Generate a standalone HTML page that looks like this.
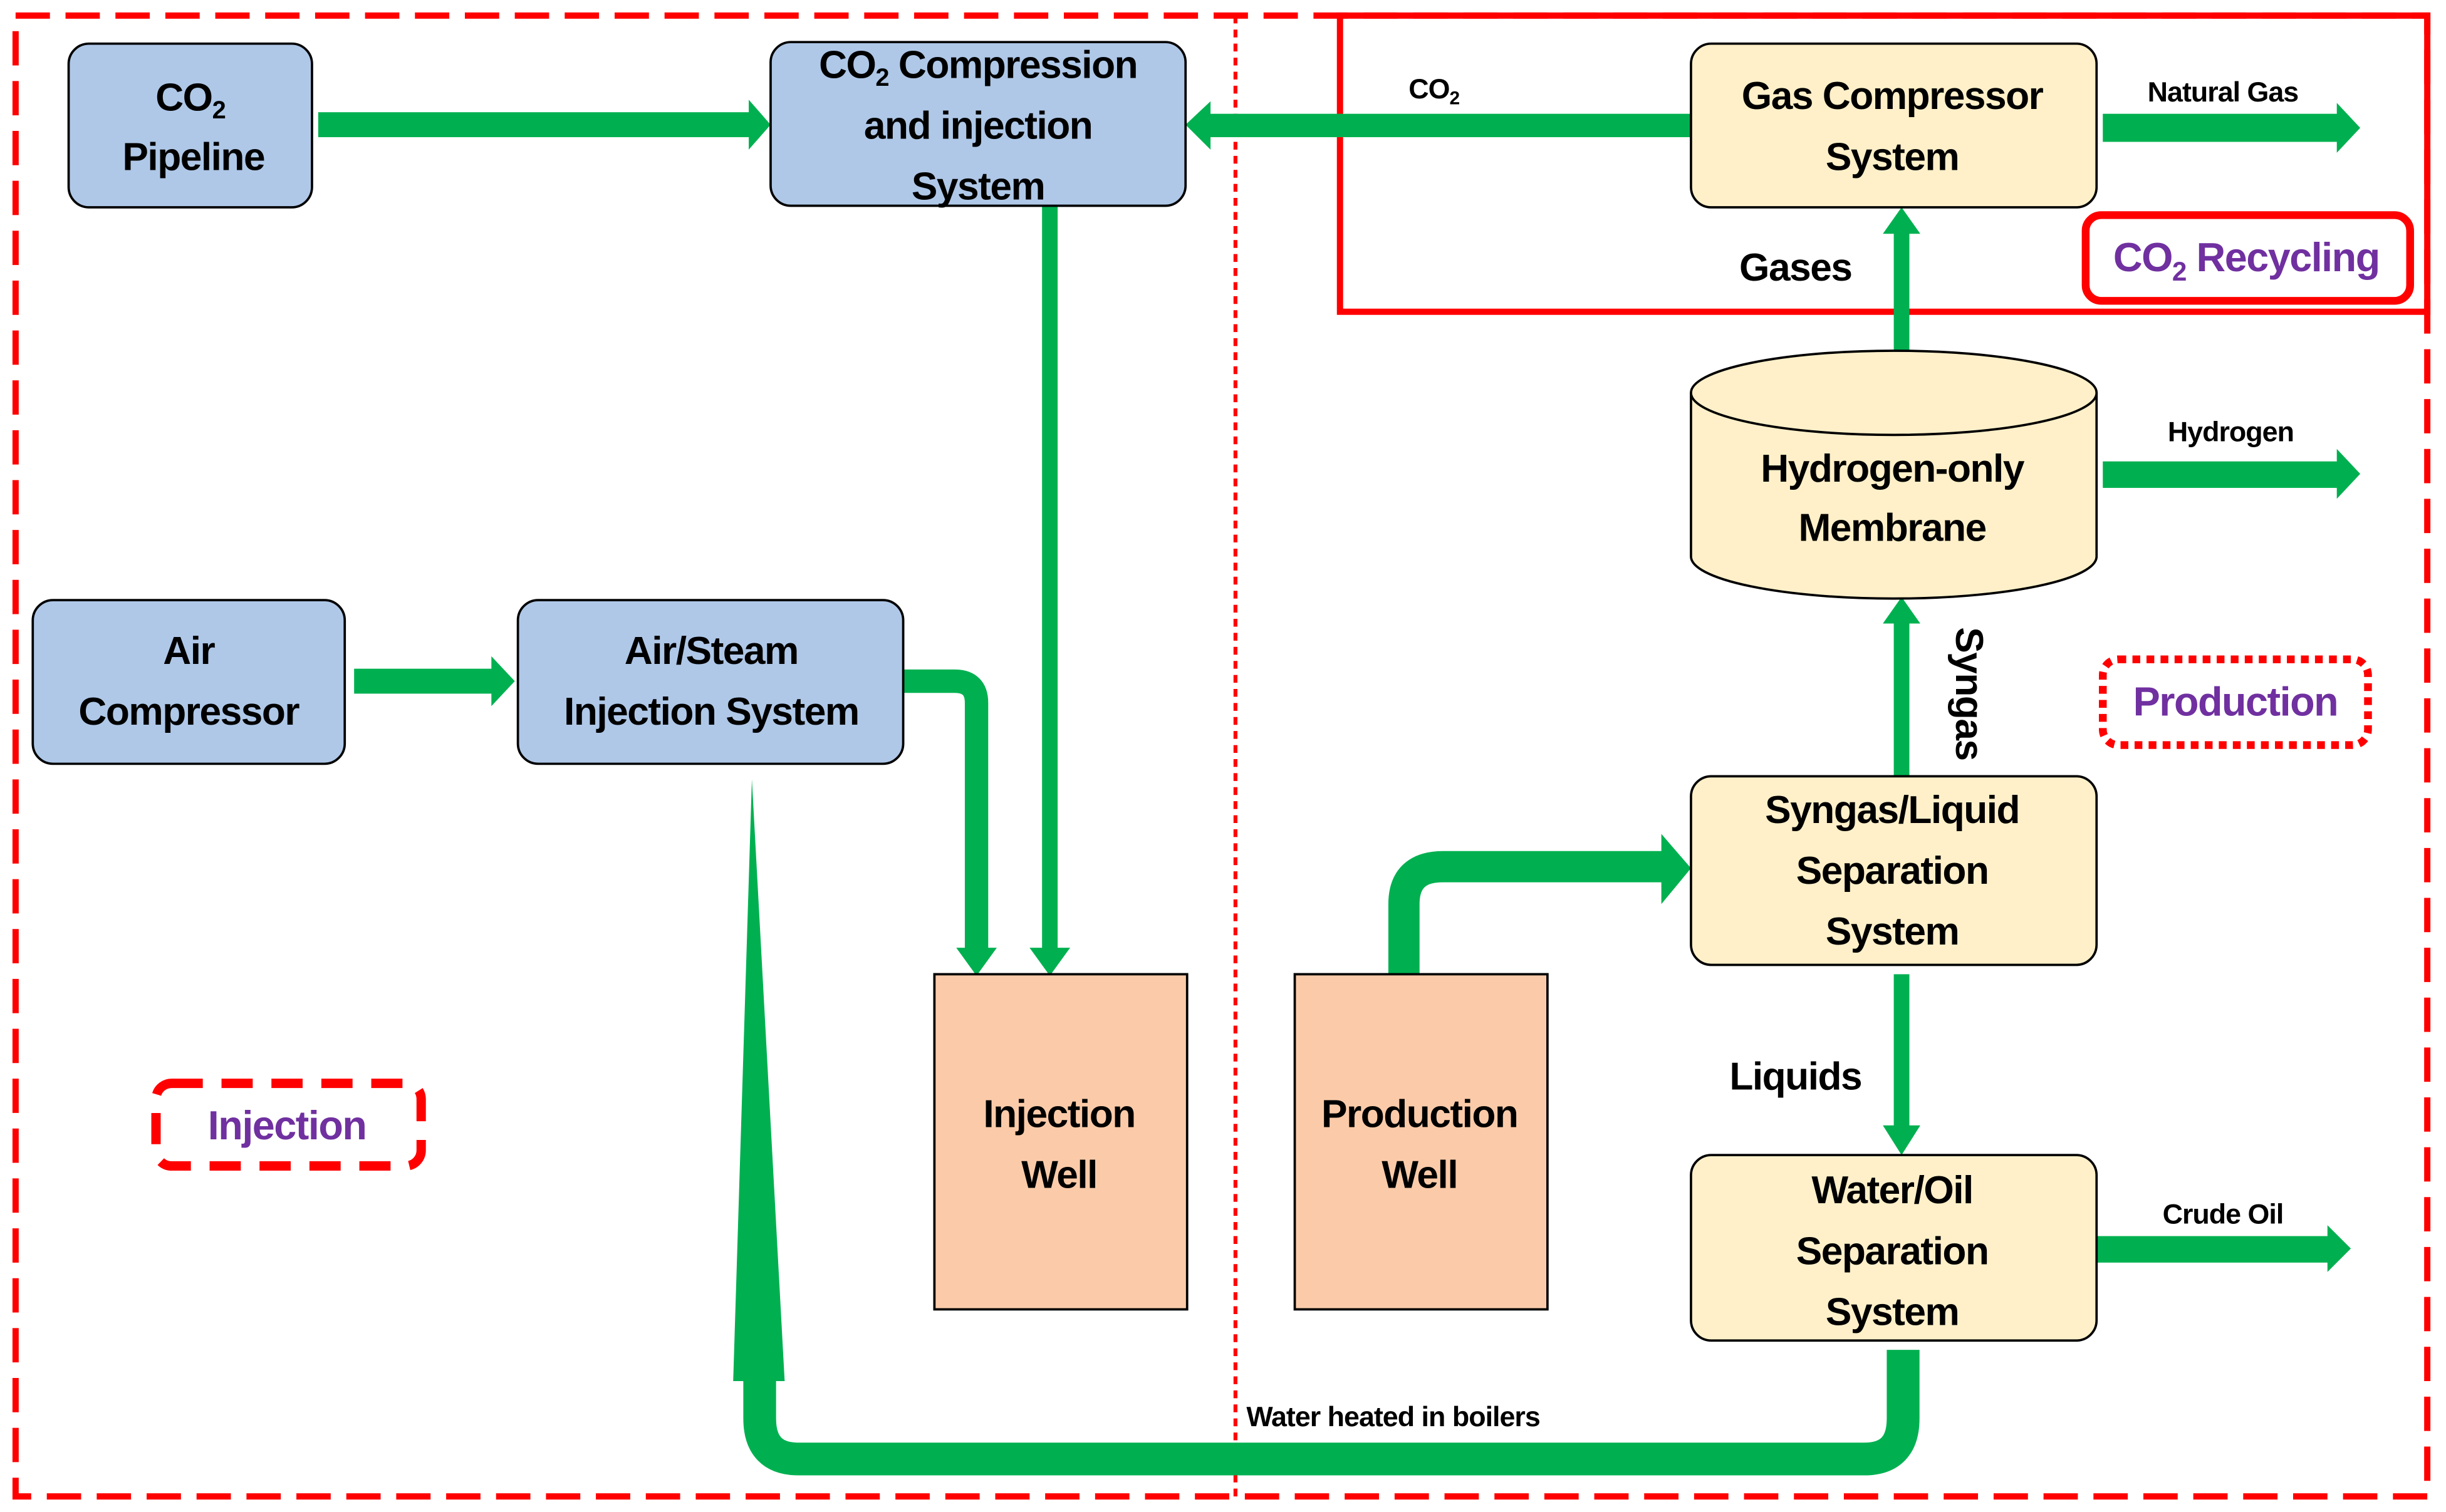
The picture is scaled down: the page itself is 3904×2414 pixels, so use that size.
<!DOCTYPE html>
<html><head><meta charset="utf-8"><style>
html,body{margin:0;padding:0;background:#fff}
svg{display:block}
text{font-family:"Liberation Sans",sans-serif;font-weight:bold;fill:#000}
.b{font-size:25px;letter-spacing:-0.6px}
.s{font-size:18px;letter-spacing:-0.4px}
.p{fill:#7030A0;font-size:26px;letter-spacing:-0.6px}
</style></head><body>
<svg width="3904" height="2414" viewBox="0 0 1568 970" preserveAspectRatio="none" xmlns="http://www.w3.org/2000/svg">
<rect x="0" y="0" width="1568" height="970" fill="#fff"/>
<!-- frames -->
<rect x="10" y="10" width="1546" height="950" fill="none" stroke="#f00" stroke-width="4" stroke-dasharray="22,10"/>
<line x1="792" y1="10" x2="792" y2="960" stroke="#f00" stroke-width="2.5" stroke-dasharray="5,4"/>
<rect x="859" y="10" width="697" height="190" fill="none" stroke="#f00" stroke-width="4"/>
<rect x="1337" y="138" width="208" height="55" rx="10" fill="#fff" stroke="#f00" stroke-width="5"/>
<text class="p" x="1440" y="174" text-anchor="middle">CO<tspan font-size="17" dy="6">2</tspan><tspan dy="-6"> Recycling</tspan></text>
<rect x="1348" y="423" width="170" height="55" rx="10" fill="#fff" stroke="#f00" stroke-width="5" stroke-dasharray="5,4"/>
<text class="p" x="1433" y="459" text-anchor="middle">Production</text>
<rect x="100" y="695" width="170" height="53" rx="10" fill="#fff" stroke="#f00" stroke-width="6" stroke-dasharray="20,12"/>
<text class="p" x="184" y="731" text-anchor="middle">Injection</text>

<!-- arrows -->
<g fill="#00B050">
<rect x="204" y="72" width="278" height="16"/><polygon points="480,64 494,80 480,96"/>
<rect x="774" y="73" width="310" height="15"/><polygon points="776,65 760,80 776,96"/>
<rect x="1348" y="73" width="152" height="18"/><polygon points="1498,66 1513,82 1498,98"/>
<rect x="1348" y="296" width="152" height="17"/><polygon points="1498,288 1513,304 1498,320"/>
<rect x="1344" y="793" width="150" height="17"/><polygon points="1492,786 1507,801 1492,816"/>
<rect x="227" y="429" width="90" height="16"/><polygon points="315,421 330,437 315,453"/>
<rect x="668" y="132" width="10" height="478"/><polygon points="660,608 686,608 673,626"/>
<rect x="1214" y="148" width="10" height="77"/><polygon points="1207,150 1231,150 1219,133"/>
<rect x="1214" y="398" width="10" height="100"/><polygon points="1207,400 1231,400 1219,383"/>
<rect x="1214" y="625" width="10" height="100"/><polygon points="1207,722 1231,722 1219,741"/>
<polygon points="1065,535 1084,557 1065,580"/>
<polygon points="613,608 639,608 626,626"/>
<polygon points="482,500 470,886 503,886"/>
</g>
<g fill="none" stroke="#00B050" stroke-linejoin="round">
<path d="M579,437 H612 Q626,437 626,451 V610" stroke-width="15"/>
<path d="M900,625 V580 Q900,556 925,556 H1067" stroke-width="20"/>
<path d="M1220,866 V910 Q1220,936 1195,936 H512 Q487,936 487,910 V884" stroke-width="21"/>
</g>

<!-- boxes -->
<g stroke="#000" stroke-width="1.5">
<rect x="44" y="28" width="156" height="105" rx="13" fill="#AFC8E8"/>
<rect x="494" y="27" width="266" height="105" rx="13" fill="#AFC8E8"/>
<rect x="21" y="385" width="200" height="105" rx="13" fill="#AFC8E8"/>
<rect x="332" y="385" width="247" height="105" rx="13" fill="#AFC8E8"/>
<rect x="1084" y="28" width="260" height="105" rx="13" fill="#FFF0C9"/>
<rect x="1084" y="498" width="260" height="121" rx="13" fill="#FFF0C9"/>
<rect x="1084" y="741" width="260" height="119" rx="13" fill="#FFF0C9"/>
<rect x="599" y="625" width="162" height="215" fill="#FBCBA9"/>
<rect x="830" y="625" width="162" height="215" fill="#FBCBA9"/>
<path d="M1084,252 V357 A130,27 0 0 0 1344,357 V252" fill="#FFF0C9"/>
<ellipse cx="1214" cy="252" rx="130" ry="27" fill="#FFF0C9"/>
</g>

<!-- labels -->
<g class="b" text-anchor="middle">
<text x="122" y="71">CO<tspan font-size="16" dy="5">2</tspan></text>
<text x="124" y="109">Pipeline</text>
<text x="627" y="50">CO<tspan font-size="16" dy="5">2</tspan><tspan dy="-5"> Compression</tspan></text>
<text x="627" y="89">and injection</text>
<text x="627" y="128">System</text>
<text x="121" y="426">Air</text>
<text x="121" y="465">Compressor</text>
<text x="456" y="426">Air/Steam</text>
<text x="456" y="465">Injection System</text>
<text x="1213" y="70">Gas Compressor</text>
<text x="1213" y="109">System</text>
<text x="1213" y="309">Hydrogen-only</text>
<text x="1213" y="347">Membrane</text>
<text x="1213" y="528">Syngas/Liquid</text>
<text x="1213" y="567">Separation</text>
<text x="1213" y="606">System</text>
<text x="1213" y="772">Water/Oil</text>
<text x="1213" y="811">Separation</text>
<text x="1213" y="850">System</text>
<text x="679" y="723">Injection</text>
<text x="679" y="762">Well</text>
<text x="910" y="723">Production</text>
<text x="910" y="762">Well</text>
<text x="1151" y="180">Gases</text>
<text x="1151" y="699">Liquids</text>
</g>
<text class="b" transform="translate(1254,445) rotate(90)" text-anchor="middle">Syngas</text>
<g class="s">
<text x="903" y="63">CO<tspan font-size="12" dy="4">2</tspan></text>
<text x="1425" y="65" text-anchor="middle">Natural Gas</text>
<text x="1430" y="283" text-anchor="middle">Hydrogen</text>
<text x="1425" y="785" text-anchor="middle">Crude Oil</text>
<text x="799" y="915">Water heated in boilers</text>
</g>
</svg>
</body></html>
